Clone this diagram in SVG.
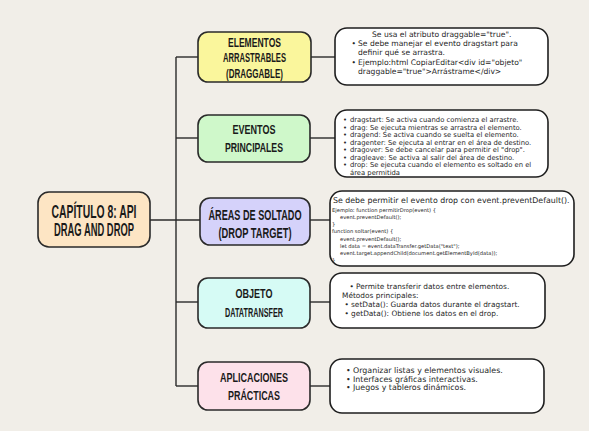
<svg xmlns="http://www.w3.org/2000/svg" width="589" height="431" viewBox="0 0 589 431">
<style>
.bg{fill:#F1EEE8}
.node{stroke:#2a2a2a;stroke-width:1.6}
.det{fill:#ffffff;stroke:#1e1e1e;stroke-width:1.6}
.conn{stroke:#2a2a2a;stroke-width:1.4;fill:none}
.h{font-family:"Liberation Sans",Arial,sans-serif;font-weight:bold;fill:#1a1a1a;text-anchor:middle}
.t{font-family:"DejaVu Sans","Noto Sans",sans-serif;fill:#262626}
.c{font-family:"DejaVu Sans","Noto Sans",sans-serif;fill:#262626;font-size:5.2px}
</style>
<rect class="bg" x="0" y="0" width="589" height="431"/>
<g id="connectors">
<line class="conn" x1="176" y1="57" x2="176" y2="386"/>
<line class="conn" x1="150" y1="220" x2="200" y2="220"/>
<line class="conn" x1="176" y1="57" x2="198" y2="57"/>
<line class="conn" x1="176" y1="138" x2="198" y2="138"/>
<line class="conn" x1="176" y1="302" x2="198" y2="302"/>
<line class="conn" x1="176" y1="386" x2="198" y2="386"/>
<line class="conn" x1="311" y1="57" x2="335" y2="57"/>
<line class="conn" x1="310" y1="138" x2="335" y2="138"/>
<line class="conn" x1="310" y1="220" x2="330" y2="220"/>
<line class="conn" x1="310" y1="302" x2="330" y2="302"/>
<line class="conn" x1="310" y1="386" x2="330" y2="386"/>
</g>
<g id="main">
<rect class="node" x="38" y="192" width="112" height="55" rx="11" fill="#FDE5C4"/>
<text class="h" x="94" y="218" font-size="18" textLength="85" lengthAdjust="spacingAndGlyphs">CAPÍTULO 8: API</text>
<text class="h" x="94" y="235.5" font-size="18" textLength="80" lengthAdjust="spacingAndGlyphs">DRAG AND DROP</text>
</g>
<g id="n-elementos">
<rect class="node" x="198" y="32" width="113" height="50" rx="10" fill="#FAF69C"/>
<text class="h" x="254.5" y="46.5" font-size="13.5" textLength="53" lengthAdjust="spacingAndGlyphs">ELEMENTOS</text>
<text class="h" x="254.5" y="62" font-size="13.5" textLength="63" lengthAdjust="spacingAndGlyphs">ARRASTRABLES</text>
<text class="h" x="254.5" y="77.5" font-size="13.5" textLength="57" lengthAdjust="spacingAndGlyphs">(DRAGGABLE)</text>
</g>
<g id="n-eventos">
<rect class="node" x="198" y="115" width="112" height="47" rx="10" fill="#CFF8CA"/>
<text class="h" x="254" y="133.5" font-size="13.5" textLength="43" lengthAdjust="spacingAndGlyphs">EVENTOS</text>
<text class="h" x="254" y="152" font-size="13.5" textLength="58" lengthAdjust="spacingAndGlyphs">PRINCIPALES</text>
</g>
<g id="n-areas">
<rect class="node" x="200" y="198" width="110" height="47" rx="10" fill="#D5D2FA"/>
<text class="h" x="255" y="219.5" font-size="15" textLength="93" lengthAdjust="spacingAndGlyphs">ÁREAS DE SOLTADO</text>
<text class="h" x="255" y="238" font-size="15" textLength="73" lengthAdjust="spacingAndGlyphs">(DROP TARGET)</text>
</g>
<g id="n-objeto">
<rect class="node" x="198" y="278" width="112" height="50" rx="10" fill="#D6FBF5"/>
<text class="h" x="254" y="298" font-size="13.5" textLength="37" lengthAdjust="spacingAndGlyphs">OBJETO</text>
<text class="h" x="254" y="317" font-size="13.5" textLength="58" lengthAdjust="spacingAndGlyphs">DATATRANSFER</text>
</g>
<g id="n-aplicaciones">
<rect class="node" x="198" y="362" width="112" height="48" rx="10" fill="#FDE1EA"/>
<text class="h" x="254" y="382" font-size="13.5" textLength="68" lengthAdjust="spacingAndGlyphs">APLICACIONES</text>
<text class="h" x="254" y="400" font-size="13.5" textLength="52" lengthAdjust="spacingAndGlyphs">PRÁCTICAS</text>
</g>
<g id="d-elementos">
<rect class="det" x="335" y="28" width="213" height="57" rx="12"/>
<text class="t" font-size="7.6">
<tspan x="372" y="37">Se usa el atributo draggable="true".</tspan>
<tspan x="351.5" y="46">•</tspan><tspan x="358" y="46">Se debe manejar el evento dragstart para</tspan>
<tspan x="358" y="55">definir qué se arrastra.</tspan>
<tspan x="351.5" y="65">•</tspan><tspan x="358" y="65">Ejemplo:html CopiarEditar&lt;div id="objeto"</tspan>
<tspan x="358" y="74">draggable="true"&gt;Arrástrame&lt;/div&gt;</tspan>
</text>
</g>
<g id="d-eventos">
<rect class="det" x="335" y="110" width="213" height="67" rx="12"/>
<text class="t" font-size="6.8">
<tspan x="343" y="122">•</tspan><tspan x="350" y="122">dragstart: Se activa cuando comienza el arrastre.</tspan>
<tspan x="343" y="129.5">•</tspan><tspan x="350" y="129.5">drag: Se ejecuta mientras se arrastra el elemento.</tspan>
<tspan x="343" y="137">•</tspan><tspan x="350" y="137">dragend: Se activa cuando se suelta el elemento.</tspan>
<tspan x="343" y="144.5">•</tspan><tspan x="350" y="144.5">dragenter: Se ejecuta al entrar en el área de destino.</tspan>
<tspan x="343" y="152">•</tspan><tspan x="350" y="152">dragover: Se debe cancelar para permitir el "drop".</tspan>
<tspan x="343" y="159.5">•</tspan><tspan x="350" y="159.5">dragleave: Se activa al salir del área de destino.</tspan>
<tspan x="343" y="167">•</tspan><tspan x="350" y="167">drop: Se ejecuta cuando el elemento es soltado en el</tspan>
<tspan x="350" y="174.5">área permitida</tspan>
</text>
</g>
<g id="d-areas">
<rect class="det" x="330" y="191" width="244" height="75" rx="12"/>
<text class="t" font-size="7.85" x="333" y="203">Se debe permitir el evento drop con event.preventDefault().</text>
<text class="c" x="332" y="211.8">Ejemplo: function permitirDrop(event) {</text>
<text class="c" x="340" y="219">event.preventDefault();</text>
<text class="c" x="332" y="226.2">}</text>
<text class="c" x="332" y="233.4">function soltar(event) {</text>
<text class="c" x="340" y="240.6">event.preventDefault();</text>
<text class="c" x="340" y="247.8">let data = event.dataTransfer.getData("text");</text>
<text class="c" x="340" y="255">event.target.appendChild(document.getElementById(data));</text>
<text class="c" x="332" y="262.2">}</text>
</g>
<g id="d-objeto">
<rect class="det" x="330" y="273" width="215" height="55" rx="12"/>
<text class="t" font-size="7.4">
<tspan x="349.5" y="289">•</tspan><tspan x="356" y="289">Permite transferir datos entre elementos.</tspan>
<tspan x="342" y="298">Métodos principales:</tspan>
<tspan x="344.5" y="307">•</tspan><tspan x="351" y="307">setData(): Guarda datos durante el dragstart.</tspan>
<tspan x="344.5" y="315.5">•</tspan><tspan x="351" y="315.5">getData(): Obtiene los datos en el drop.</tspan>
</text>
</g>
<g id="d-aplicaciones">
<rect class="det" x="330" y="359" width="214" height="54" rx="12"/>
<text class="t" font-size="7.9">
<tspan x="346" y="373">•</tspan><tspan x="353" y="373">Organizar listas y elementos visuales.</tspan>
<tspan x="346" y="381.5">•</tspan><tspan x="353" y="381.5">Interfaces gráficas interactivas.</tspan>
<tspan x="346" y="390">•</tspan><tspan x="353" y="390">Juegos y tableros dinámicos.</tspan>
</text>
</g>
</svg>
